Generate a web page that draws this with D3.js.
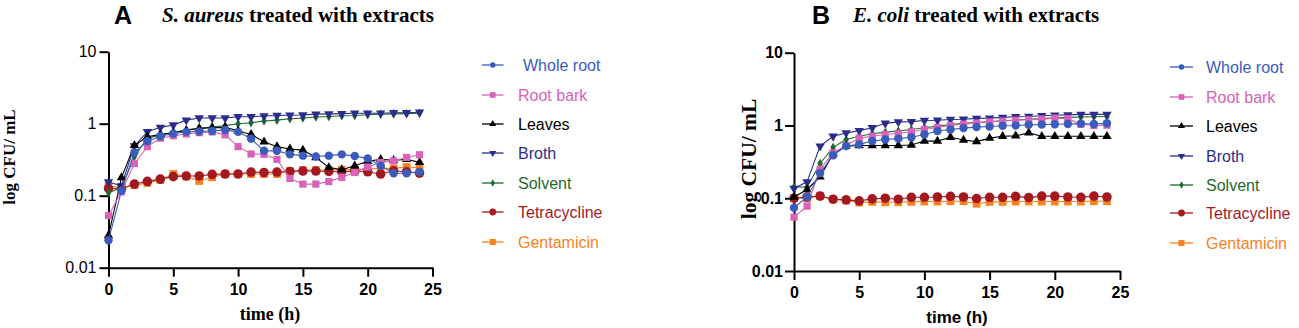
<!DOCTYPE html>
<html><head><meta charset="utf-8">
<script src="https://cdn.jsdelivr.net/npm/d3@7"></script>
<style>body{margin:0;background:#fff;} svg{display:block;}</style>
</head><body>
<svg id="c" width="1299" height="328"></svg>
<script>
const hours = [0,1,2,3,4,5,6,7,8,9,10,11,12,13,14,15,16,17,18,19,20,21,22,23,24];
const seriesNames = ["Whole root","Root bark","Leaves","Broth","Solvent","Tetracycline","Gentamicin"];
const yTickValues = [0.01,0.1,1,10];
const yTickLabels = ["0.01","0.1","1","10"];
const xTickValues = [0,5,10,15,20,25];

// Panel A: S. aureus
const wholeRootA = [0.024,0.117,0.40,0.57,0.67,0.73,0.77,0.78,0.79,0.82,0.77,0.62,0.42,0.42,0.375,0.36,0.35,0.36,0.375,0.355,0.33,0.26,0.205,0.205,0.215];
const rootBarkA  = [0.053,0.113,0.28,0.48,0.63,0.68,0.72,0.75,0.77,0.70,0.48,0.38,0.375,0.32,0.174,0.145,0.145,0.157,0.18,0.21,0.25,0.29,0.305,0.34,0.37];
const leavesA    = [0.028,0.178,0.50,0.66,0.71,0.75,0.81,0.86,0.88,0.89,0.80,0.71,0.56,0.48,0.445,0.43,0.34,0.246,0.23,0.26,0.30,0.32,0.31,0.32,0.29];
const brothA     = [0.155,0.137,0.49,0.775,0.89,0.96,1.12,1.2,1.2,1.2,1.25,1.25,1.28,1.3,1.31,1.32,1.36,1.37,1.38,1.4,1.4,1.4,1.42,1.42,1.44];
const solventA   = [0.11,0.13,0.35,0.63,0.70,0.75,0.82,0.86,0.9,0.94,1.0,1.03,1.09,1.12,1.17,1.2,1.24,1.26,1.29,1.3,1.33,1.35,1.37,1.38,1.4];
const tetraA     = [0.126,0.125,0.145,0.158,0.17,0.184,0.188,0.188,0.198,0.2,0.2,0.213,0.21,0.213,0.217,0.22,0.22,0.217,0.215,0.22,0.215,0.2,0.222,0.215,0.206];
const gentaA     = [0.136,0.13,0.14,0.15,0.165,0.2,0.184,0.16,0.18,0.2,0.2,0.2,0.2,0.2,0.22,0.227,0.227,0.227,0.23,0.23,0.235,0.24,0.24,0.25,0.245];

// Panel B: E. coli
const wholeRootB = [0.074,0.104,0.22,0.39,0.52,0.55,0.61,0.64,0.66,0.69,0.75,0.84,0.88,0.92,0.95,0.97,0.99,1.0,1.02,1.03,1.04,1.05,1.06,1.05,1.07];
const rootBarkB  = [0.055,0.078,0.25,0.42,0.53,0.67,0.71,0.75,0.78,0.82,0.88,0.94,1.0,1.04,1.08,1.12,1.15,1.18,1.2,1.22,1.26,1.24,1.04,1.0,1.01];
const leavesB    = [0.104,0.132,0.197,0.41,0.52,0.53,0.53,0.53,0.53,0.54,0.61,0.61,0.69,0.63,0.6,0.67,0.71,0.72,0.79,0.71,0.71,0.71,0.71,0.71,0.71];
const brothB     = [0.136,0.168,0.52,0.71,0.79,0.85,0.93,1.07,1.12,1.13,1.17,1.18,1.21,1.22,1.25,1.26,1.29,1.32,1.33,1.36,1.38,1.4,1.42,1.42,1.42];
const solventB   = [0.143,0.142,0.30,0.50,0.64,0.71,0.77,0.81,0.84,0.88,0.93,0.98,1.03,1.07,1.1,1.13,1.16,1.19,1.22,1.24,1.27,1.29,1.31,1.32,1.33];
const tetraB     = [0.1,0.104,0.107,0.097,0.095,0.092,0.098,0.1,0.097,0.103,0.103,0.104,0.106,0.104,0.099,0.103,0.103,0.106,0.102,0.107,0.107,0.104,0.103,0.107,0.104];
const gentaB     = [0.1,0.1,0.108,0.096,0.093,0.087,0.089,0.088,0.088,0.089,0.09,0.09,0.091,0.091,0.084,0.089,0.089,0.09,0.09,0.09,0.09,0.09,0.09,0.091,0.091];

const styles = {
  "Whole root":   {color:"#3b5cbd", sym:"circle", size:56, lsize:24, tri:false},
  "Root bark":    {color:"#d963b8", sym:"square", size:52, lsize:32, tri:false},
  "Leaves":       {color:"#000000", sym:"triangle", size:38, lsize:22, tri:false},
  "Broth":        {color:"#2b2d8c", sym:"triangle", size:38, lsize:22, tri:true},
  "Solvent":      {color:"#1f6a2e", sym:"diamond", size:26, lsize:16, tri:false},
  "Tetracycline": {color:"#a4191f", sym:"circle", size:72, lsize:36, tri:false},
  "Gentamicin":   {color:"#f7821f", sym:"square", size:60, lsize:36, tri:false}
};
const symMap = {circle:d3.symbolCircle, square:d3.symbolSquare, triangle:d3.symbolTriangle, diamond:d3.symbolDiamond};

const svg = d3.select("#c");

function drawPanel(p){
  const x = d3.scaleLinear().domain([0,25]).range([p.x0,p.x1]);
  const y = d3.scaleLog().domain([0.01,10]).range([p.y0,p.y1]);
  const g = svg.append("g");

  const ya = g.append("g").attr("transform",`translate(${p.x0},0)`)
    .call(d3.axisLeft(y).tickValues(yTickValues).tickFormat((d,i)=>yTickLabels[i]).tickSize(9).tickSizeOuter(0).tickPadding(p.ypad));
  ya.select(".domain").attr("stroke","#000").attr("stroke-width",2);
  ya.selectAll(".tick line").attr("stroke","#000").attr("stroke-width",2);
  ya.selectAll(".tick text").attr("fill","#000").style("font-family","Liberation Sans, Arial, sans-serif")
    .style("font-size",p.ytickSize+"px").style("font-weight",p.ytickWeight);

  const xa = g.append("g").attr("transform",`translate(0,${p.y0})`)
    .call(d3.axisBottom(x).tickValues(xTickValues).tickSize(9).tickSizeOuter(0).tickPadding(7));
  xa.select(".domain").attr("stroke","#000").attr("stroke-width",2);
  xa.selectAll(".tick line").attr("stroke","#000").attr("stroke-width",2);
  xa.selectAll(".tick text").attr("fill","#000").style("font-family","Liberation Sans, Arial, sans-serif")
    .style("font-size","16px").style("font-weight","bold");

  // titles
  g.append("text").attr("x",p.letterX).attr("y",24).text(p.letter)
    .style("font-family","Liberation Sans, Arial, sans-serif").style("font-weight","bold").style("font-size","25px");
  const t = g.append("text").attr("x",p.titleX).attr("y",22)
    .style("font-family","Liberation Serif, Times New Roman, serif").style("font-weight","bold").style("font-size","21px");
  t.append("tspan").style("font-style","italic").text(p.species);
  t.append("tspan").text(" treated with extracts");

  g.append("text").attr("transform",`translate(${p.ylabX},${p.ylabY}) rotate(-90)`).attr("text-anchor","middle")
    .style("font-family","Liberation Serif, Times New Roman, serif").style("font-weight","bold").style("font-size",p.ylabSize+"px")
    .text("log CFU/ mL");
  g.append("text").attr("x",p.xlabX).attr("y",p.xlabY).attr("text-anchor","middle")
    .style("font-family",p.xlabFont).style("font-weight","bold").style("font-size",p.xlabSize+"px")
    .text("time (h)");

  // series drawn in reverse legend order
  const order = seriesNames.slice().reverse();
  const line = d3.line().x((d,i)=>x(hours[i])).y(d=>y(d));
  order.forEach(name=>{
    const s = styles[name];
    const vals = p.data[name];
    g.append("path").datum(vals).attr("d",line).attr("fill","none").attr("stroke",s.color).attr("stroke-width",1.1);
    const sym = d3.symbol().type(symMap[s.sym]).size(s.size);
    g.append("g").selectAll("path").data(vals).join("path")
      .attr("d",sym)
      .attr("transform",(d,i)=>`translate(${x(hours[i])},${y(d)})${s.tri?" rotate(180)":""}`)
      .attr("fill",s.color);
  });

  // legend
  seriesNames.forEach((name,i)=>{
    const s = styles[name];
    const cy = p.legY[i];
    const lg = g.append("g");
    lg.append("line").attr("x1",p.legX0).attr("x2",p.legX1).attr("y1",cy).attr("y2",cy).attr("stroke",s.color).attr("stroke-width",1.3);
    lg.append("path").attr("d",d3.symbol().type(symMap[s.sym]).size(s.lsize)())
      .attr("transform",`translate(${(p.legX0+p.legX1)/2},${cy})${s.tri?" rotate(180)":""}`).attr("fill",s.color);
    lg.append("text").attr("x",p.legTX + (name==="Whole root"?p.wrShift:0)).attr("y",cy+5.5).text(name)
      .attr("fill",s.color).style("font-family","Liberation Sans, Arial, sans-serif").style("font-size","16px");
  });
}

drawPanel({
  x0:108.5, x1:432.5, y0:267.7, y1:51.7, ypad:3, ytickSize:16, ytickWeight:"normal",
  letter:"A", letterX:114, titleX:162, species:"S. aureus",
  ylabX:15, ylabY:157, ylabSize:17,
  xlabX:270, xlabY:320, xlabSize:18, xlabFont:"Liberation Serif, Times New Roman, serif",
  legX0:482, legX1:503.5, legTX:518, wrShift:5,
  legY:[65,95,124,153,183,212,242],
  data:{"Whole root":wholeRootA,"Root bark":rootBarkA,"Leaves":leavesA,"Broth":brothA,"Solvent":solventA,"Tetracycline":tetraA,"Gentamicin":gentaA}
});
drawPanel({
  x0:794, x1:1120, y0:271, y1:52.7, ypad:2, ytickSize:16, ytickWeight:"bold",
  letter:"B", letterX:812, titleX:853, species:"E. coli",
  ylabX:756, ylabY:159, ylabSize:21.5,
  xlabX:957, xlabY:323, xlabSize:17, xlabFont:"Liberation Sans, Arial, sans-serif",
  legX0:1170, legX1:1193, legTX:1206, wrShift:0,
  legY:[67,97,126,156,185,213,243],
  data:{"Whole root":wholeRootB,"Root bark":rootBarkB,"Leaves":leavesB,"Broth":brothB,"Solvent":solventB,"Tetracycline":tetraB,"Gentamicin":gentaB}
});
</script>
</body></html>
